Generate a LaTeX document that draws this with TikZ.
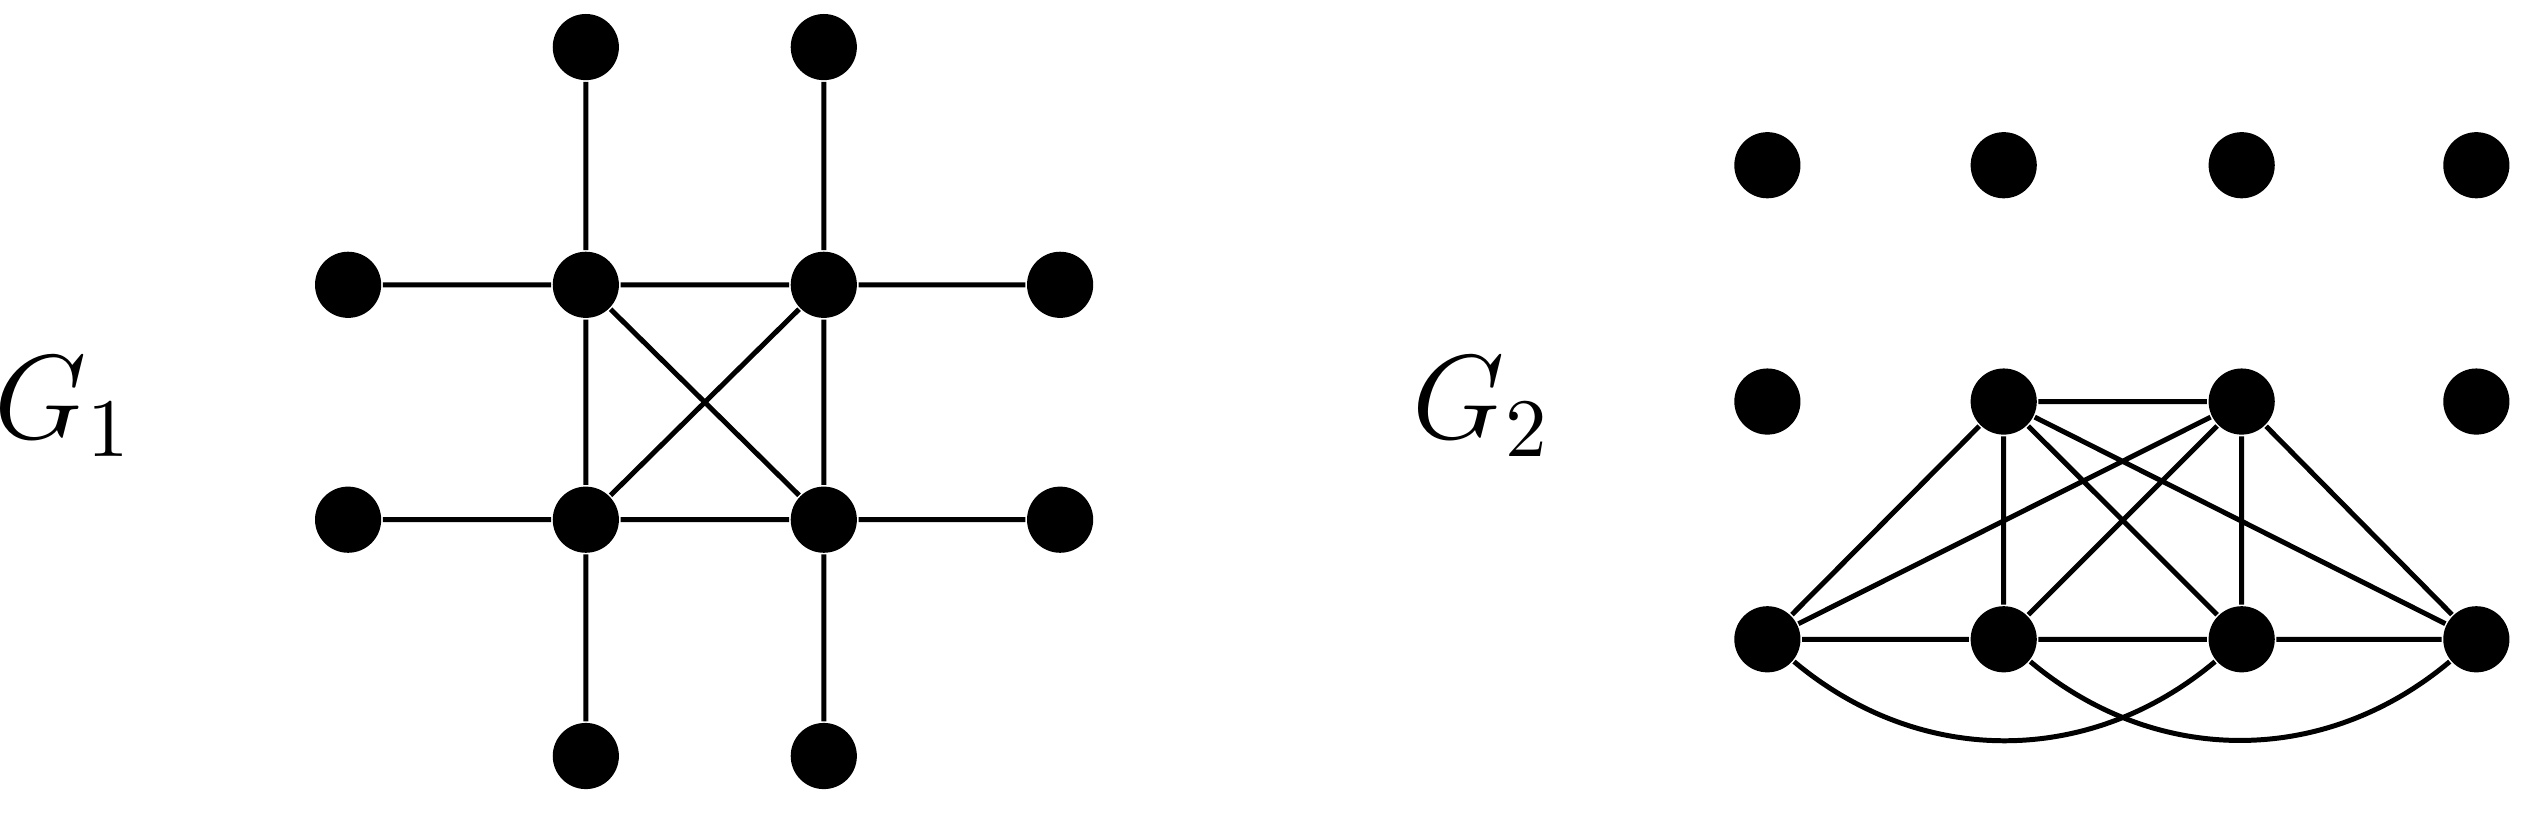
\documentclass[tikz,border=0pt]{standalone}
\begin{document}
\begin{tikzpicture}[x=1cm,y=1cm,
  vtx/.style={circle,fill=black,inner sep=0pt,minimum size=0.28cm},
  edge/.style={line width=0.6pt},
  lbl/.style={font=\Large}]
\useasboundingbox (0,0) rectangle (10.74,-3.45);
% G1
\foreach \i/\x in {0/1.473,1/2.479,2/3.486,3/4.486}{
  \foreach \j/\y in {0/-0.199,1/-1.205,2/-2.199,3/-3.199}{
    \coordinate (p\i\j) at (\x,\y);}}
\node[vtx] (t1) at (p10) {};
\node[vtx] (t2) at (p20) {};
\node[vtx] (l1) at (p01) {};
\node[vtx] (l2) at (p02) {};
\node[vtx] (r1) at (p31) {};
\node[vtx] (r2) at (p32) {};
\node[vtx] (b1) at (p13) {};
\node[vtx] (b2) at (p23) {};
\node[vtx] (c11) at (p11) {};
\node[vtx] (c21) at (p21) {};
\node[vtx] (c12) at (p12) {};
\node[vtx] (c22) at (p22) {};
\draw[edge] (t1)--(c11) (t2)--(c21) (l1)--(c11) (l2)--(c12) (r1)--(c21) (r2)--(c22)
  (b1)--(c12) (b2)--(c22) (c11)--(c21) (c12)--(c22) (c11)--(c12) (c21)--(c22)
  (c11)--(c22) (c21)--(c12);
\node[lbl] (g1) at (0.27,-1.72) {$G_1$};
% G2
\node[vtx] (u1) at (7.479,-0.699) {};
\node[vtx] (u2) at (8.479,-0.699) {};
\node[vtx] (u3) at (9.486,-0.699) {};
\node[vtx] (u4) at (10.479,-0.699) {};
\node[vtx] (s1) at (7.479,-1.699) {};
\node[vtx] (m1) at (8.479,-1.699) {};
\node[vtx] (m2) at (9.486,-1.699) {};
\node[vtx] (s4) at (10.479,-1.699) {};
\node[vtx] (a) at (7.479,-2.705) {};
\node[vtx] (b) at (8.479,-2.705) {};
\node[vtx] (c) at (9.486,-2.705) {};
\node[vtx] (d) at (10.479,-2.705) {};
\draw[edge] (m1)--(m2) (m1)--(b) (m2)--(c) (m1)--(a) (m1)--(c) (m1)--(d)
  (m2)--(a) (m2)--(b) (m2)--(d) (a)--(b) (b)--(c) (c)--(d);
\draw[edge] (a) to[bend right=40] (c);
\draw[edge] (b) to[bend right=40] (d);
\node[lbl] (g2) at (6.27,-1.72) {$G_2$};
\end{tikzpicture}
\end{document}
